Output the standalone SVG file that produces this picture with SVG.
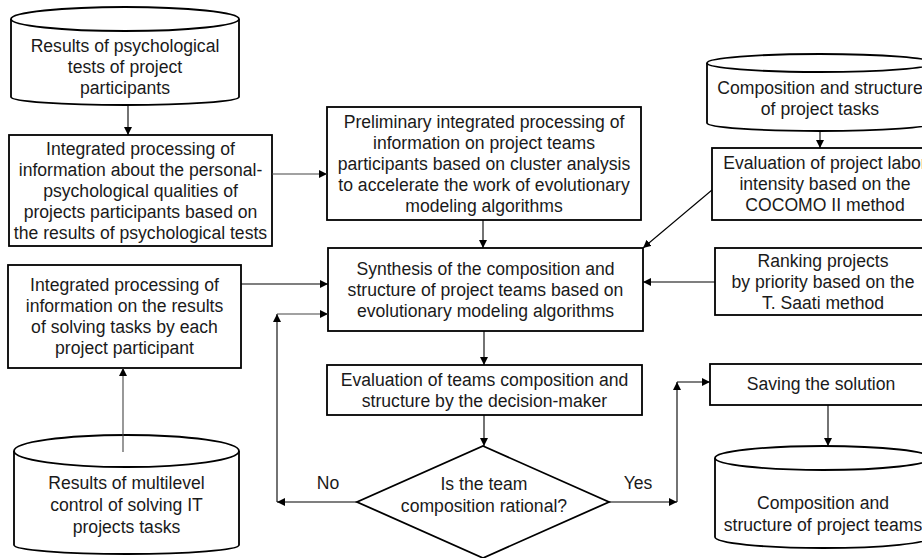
<svg xmlns="http://www.w3.org/2000/svg" width="922" height="558" viewBox="0 0 922 558">
<defs>
<marker id="ah" viewBox="0 0 10 10" refX="10" refY="5" markerWidth="8" markerHeight="8" markerUnits="userSpaceOnUse" orient="auto">
<path d="M0,0 L10,5 L0,10 Z" fill="#000"/>
</marker>
<style>
.box{fill:#fff;stroke:#000;stroke-width:1.8}
.cyl{fill:#fff;stroke:#000;stroke-width:1.8}
.t{font-family:"Liberation Sans",Arial,sans-serif;font-size:17.6px;fill:#1a1a1a;text-anchor:middle}
.c{fill:none;stroke:#000;stroke-width:1.1;marker-end:url(#ah)}
.g{stroke:#444}
</style>
</defs>
<rect width="922" height="558" fill="#fff"/>

<g id="cyl-psych">
<path class="cyl" d="M11,19 L11,97 A114,8 0 0 0 239,97 L239,19"/>
<ellipse class="cyl" cx="125" cy="19" rx="114" ry="12"/>
<text class="t" x="125" y="52">Results of psychological</text>
<text class="t" x="125" y="73">tests of project</text>
<text class="t" x="125" y="94">participants</text>
</g>

<g id="box-personal">
<rect class="box" x="9" y="135" width="263" height="111"/>
<text class="t" x="140.5" y="154.5">Integrated processing of</text>
<text class="t" x="140.5" y="175.5">information about the personal-</text>
<text class="t" x="140.5" y="196.5">psychological qualities of</text>
<text class="t" x="140.5" y="217.5">projects participants based on</text>
<text class="t" x="140.5" y="238.5">the results of psychological tests</text>
</g>

<g id="box-preliminary">
<rect class="box" x="327" y="107" width="314" height="113"/>
<text class="t" x="484" y="127.5">Preliminary integrated processing of</text>
<text class="t" x="484" y="148.5">information on project teams</text>
<text class="t" x="484" y="169.5">participants based on cluster analysis</text>
<text class="t" x="484" y="190.5">to accelerate the work of evolutionary</text>
<text class="t" x="484" y="211.5">modeling algorithms</text>
</g>

<g id="cyl-tasks">
<path class="cyl" d="M707,63 L707,123 A113,8 0 0 0 933,123 L933,63"/>
<ellipse class="cyl" cx="820" cy="63" rx="113" ry="9"/>
<text class="t" x="820" y="94">Composition and structure</text>
<text class="t" x="820" y="115">of project tasks</text>
</g>

<g id="box-cocomo">
<rect class="box" x="712" y="148" width="240" height="72"/>
<text class="t" x="825" y="169">Evaluation of project labor</text>
<text class="t" x="825" y="190">intensity based on the</text>
<text class="t" x="825" y="211">COCOMO II method</text>
</g>

<g id="box-synthesis">
<rect class="box" x="328" y="248" width="315" height="83"/>
<text class="t" x="485.5" y="274.5">Synthesis of the composition and</text>
<text class="t" x="485.5" y="295.5">structure of project teams based on</text>
<text class="t" x="485.5" y="316.5">evolutionary modeling algorithms</text>
</g>

<g id="box-ranking">
<rect class="box" x="715" y="248" width="240" height="67"/>
<text class="t" x="823" y="266.5">Ranking projects</text>
<text class="t" x="823" y="287.5">by priority based on the</text>
<text class="t" x="823" y="308.5">T. Saati method</text>
</g>

<g id="box-results">
<rect class="box" x="8" y="265" width="233" height="103"/>
<text class="t" x="124.5" y="291">Integrated processing of</text>
<text class="t" x="124.5" y="312">information on the results</text>
<text class="t" x="124.5" y="333">of solving tasks by each</text>
<text class="t" x="124.5" y="354">project participant</text>
</g>

<g id="box-evaluation">
<rect class="box" x="327" y="365" width="315" height="50"/>
<text class="t" x="484.5" y="385.5">Evaluation of teams composition and</text>
<text class="t" x="484.5" y="406.5">structure by the decision-maker</text>
</g>

<g id="decision">
<path class="box" d="M483,446 L609,502 L483,558 L357,502 Z"/>
<text class="t" x="484" y="490">Is the team</text>
<text class="t" x="484" y="512">composition rational?</text>
</g>

<g id="box-saving">
<rect class="box" x="710" y="364" width="240" height="41"/>
<text class="t" x="821" y="390">Saving the solution</text>
</g>

<g id="cyl-multilevel">
<path class="cyl" d="M14,451 L14,545 A112.5,9 0 0 0 239,545 L239,451"/>
<ellipse class="cyl" cx="126.5" cy="451" rx="112.5" ry="16"/>
<text class="t" x="126.5" y="489">Results of multilevel</text>
<text class="t" x="126.5" y="511">control of solving IT</text>
<text class="t" x="126.5" y="533">projects tasks</text>
</g>

<g id="cyl-teams">
<path class="cyl" d="M715,458 L715,537 A108,11 0 0 0 931,537 L931,458"/>
<ellipse class="cyl" cx="823" cy="458" rx="108" ry="12"/>
<text class="t" x="823" y="509">Composition and</text>
<text class="t" x="823" y="531">structure of project teams</text>
</g>

<g id="connectors">
<line class="c" x1="128" y1="105" x2="128" y2="135"/>
<line class="c g" x1="272" y1="174" x2="327" y2="174"/>
<line class="c" x1="483" y1="220" x2="483" y2="248"/>
<line class="c" x1="241" y1="284" x2="328" y2="284"/>
<line class="c g" x1="123" y1="452" x2="123" y2="368"/>
<line class="c" x1="357" y1="502" x2="277" y2="502"/>
<line class="c" x1="277" y1="502" x2="277" y2="314"/>
<line class="c g" x1="277" y1="314" x2="328" y2="314"/>
<line class="c" x1="484" y1="331" x2="484" y2="365"/>
<line class="c" x1="484" y1="415" x2="484" y2="446"/>
<line class="c" x1="609" y1="502" x2="677" y2="502"/>
<line class="c" x1="677" y1="502" x2="677" y2="382"/>
<line class="c" x1="677" y1="382" x2="710" y2="382"/>
<line class="c" x1="820" y1="131" x2="820" y2="148"/>
<line class="c" x1="712" y1="190" x2="643" y2="248"/>
<line class="c" x1="715" y1="282" x2="643" y2="282"/>
<line class="c" x1="828" y1="405" x2="828" y2="446"/>
<text class="t" x="328" y="489">No</text>
<text class="t" x="638" y="489">Yes</text>
</g>
</svg>
